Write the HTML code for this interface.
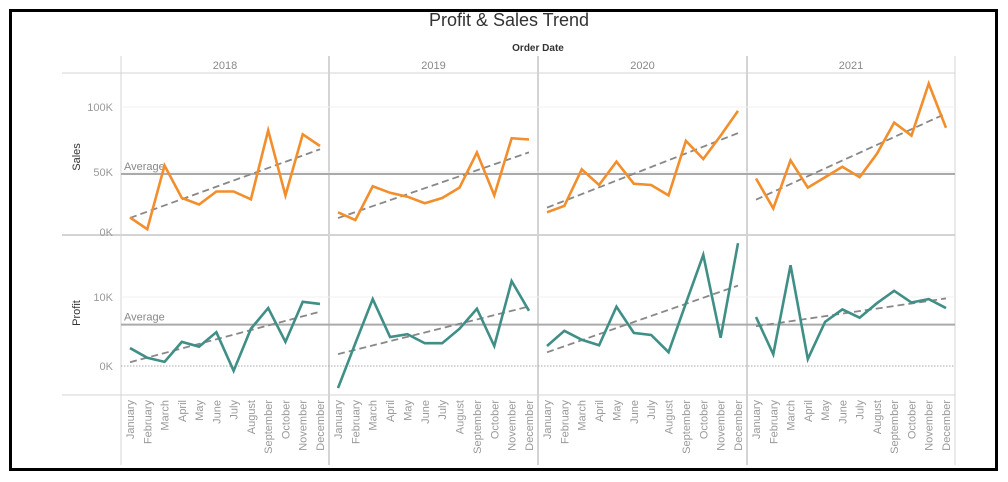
<!DOCTYPE html>
<html><head><meta charset="utf-8"><style>
body{margin:0;background:#fff;width:1008px;height:482px;overflow:hidden;font-family:"Liberation Sans",sans-serif}
#frame{position:absolute;left:9px;top:9px;width:983px;height:456px;border:3px solid #000}
</style></head><body>
<div id="frame"></div>
<svg id="c" width="1008" height="482" style="position:absolute;left:0;top:0"></svg>
<script>
const years = ["2018","2019","2020","2021"];
const months = ["January","February","March","April","May","June","July","August","September","October","November","December"];
const sales2018 = [15,6,55,30,25,35,35,29,82,32,79,70];
const sales2019 = [19,13,39,34,31,26,30,38,65,32,76,75];
const sales2020 = [19,24,52,40,58,41,40,32,74,60,78,97];
const sales2021 = [45,22,59,38,46,54,46,64,88,78,118,84];
const profit2018 = [2.6,1.2,0.6,3.5,2.8,4.9,-0.7,5.4,8.4,3.5,9.3,9.0];
const profit2019 = [-3.2,3.3,9.7,4.2,4.6,3.3,3.3,5.4,8.3,2.9,12.3,8.0];
const profit2020 = [2.9,5.1,3.8,3.0,8.6,4.8,4.5,2.0,9.1,16.1,4.1,17.8];
const profit2021 = [7.1,1.7,14.6,1.0,6.4,8.2,7.0,9.1,10.9,9.2,9.7,8.4];
const salesTicks = [0,50,100];
const profitTicks = [0,10];

const sales=[sales2018,sales2019,sales2020,sales2021];
const profit=[profit2018,profit2019,profit2020,profit2021];
const svg=document.getElementById('c');
const NS='http://www.w3.org/2000/svg';
function mk(t,a,p){const e=document.createElementNS(NS,t);for(const k in a)e.setAttribute(k,a[k]);(p||svg).appendChild(e);return e;}
const colX=[121,329,538,747,955];
function xM(p,i){return colX[p]+9+i*(colX[p+1]-colX[p]-18)/11;}
function yS(v){return 237-1.3*v;}
function yP(v){return 366-6.9*v;}
// title
let t=mk('text',{x:509,y:26,'text-anchor':'middle','font-size':18,fill:'#333'});t.textContent='Profit & Sales Trend';

t=mk('text',{x:538,y:51,'text-anchor':'middle','font-size':10,fill:'#333','font-weight':'bold'});t.textContent='Order Date';

// structure lines
mk('line',{x1:62,y1:73,x2:955,y2:73,stroke:'#d4d4d4','stroke-width':1});
mk('line',{x1:62,y1:235,x2:955,y2:235,stroke:'#d4d4d4','stroke-width':2});
mk('line',{x1:62,y1:395,x2:955,y2:395,stroke:'#d4d4d4','stroke-width':1});
mk('line',{x1:121,y1:73,x2:121,y2:465,stroke:'#d4d4d4'});
for(let p=1;p<5;p++){mk('line',{x1:colX[p],y1:56,x2:colX[p],y2:p==4?465:465,stroke:'#d4d4d4','stroke-width':p==4?1:2});}
mk('line',{x1:121,y1:56,x2:121,y2:73,stroke:'#d4d4d4'});
// gridlines & ticks
salesTicks.forEach(v=>{if(v>0)mk('line',{x1:121,y1:yS(v),x2:955,y2:yS(v),stroke:'#f0f0f0'});
 const tt=mk('text',{x:113,y:Math.min(yS(v),232)+4,'text-anchor':'end','font-size':11,fill:'#999'});tt.textContent=v+'K';
 });
profitTicks.forEach(v=>{if(v>0)mk('line',{x1:121,y1:yP(v),x2:955,y2:yP(v),stroke:'#f0f0f0'});
 const tt=mk('text',{x:113,y:yP(v)+4,'text-anchor':'end','font-size':11,fill:'#999'});tt.textContent=v+'K';
 });
mk('line',{x1:121,y1:yP(0),x2:955,y2:yP(0),stroke:'#aaa','stroke-dasharray':'1.5,1.5'});
t=mk('text',{x:80,y:157,'text-anchor':'middle','font-size':11,fill:'#333',transform:'rotate(-90 80 157)'});t.textContent='Sales';

t=mk('text',{x:80,y:313,'text-anchor':'middle','font-size':11,fill:'#333',transform:'rotate(-90 80 313)'});t.textContent='Profit';

// averages
const flat=a=>a.reduce((s,r)=>s.concat(r),[]);
const avgS=flat(sales).reduce((a,b)=>a+b,0)/48, avgP=flat(profit).reduce((a,b)=>a+b,0)/48;
mk('line',{x1:121,y1:yS(avgS),x2:955,y2:yS(avgS),stroke:'#aaa','stroke-width':2});
mk('line',{x1:121,y1:yP(avgP),x2:955,y2:yP(avgP),stroke:'#aaa','stroke-width':2});
t=mk('text',{x:124,y:yS(avgS)-4,'font-size':11,fill:'#888'});t.textContent='Average';

t=mk('text',{x:124,y:yP(avgP)-4,'font-size':11,fill:'#888'});t.textContent='Average';

function reg(a){const n=a.length;let mx=(n-1)/2,my=a.reduce((s,v)=>s+v,0)/n,num=0,den=0;a.forEach((v,i)=>{num+=(i-mx)*(v-my);den+=(i-mx)*(i-mx);});const b=num/den;return [my-b*mx,my+b*(n-1-mx)];}
years.forEach((yr,p)=>{
 const h=mk('text',{x:(colX[p]+colX[p+1])/2,y:69,'text-anchor':'middle','font-size':11,fill:'#888'});h.textContent=yr;
 
 months.forEach((m,i)=>{const x=xM(p,i)+4;const l=mk('text',{x:x,y:400,'text-anchor':'end','font-size':11,fill:'#999',transform:`rotate(-90 ${x} 400)`});l.textContent=m;
  });
 const rs=reg(sales[p]);
 let e=mk('line',{x1:xM(p,0),y1:yS(rs[0]),x2:xM(p,11),y2:yS(rs[1]),stroke:'#888','stroke-width':1.8,'stroke-dasharray':'7,4'});
 
 const rp=reg(profit[p]);
 e=mk('line',{x1:xM(p,0),y1:yP(rp[0]),x2:xM(p,11),y2:yP(rp[1]),stroke:'#888','stroke-width':1.8,'stroke-dasharray':'7,4'});
 
 e=mk('polyline',{points:sales[p].map((v,i)=>xM(p,i)+','+yS(v)).join(' '),fill:'none',stroke:'#f28e2b','stroke-width':2.6,'stroke-linejoin':'miter'});
 
 e=mk('polyline',{points:profit[p].map((v,i)=>xM(p,i)+','+yP(v)).join(' '),fill:'none',stroke:'#3f8f86','stroke-width':2.6});
 
});
</script>
</body></html>
